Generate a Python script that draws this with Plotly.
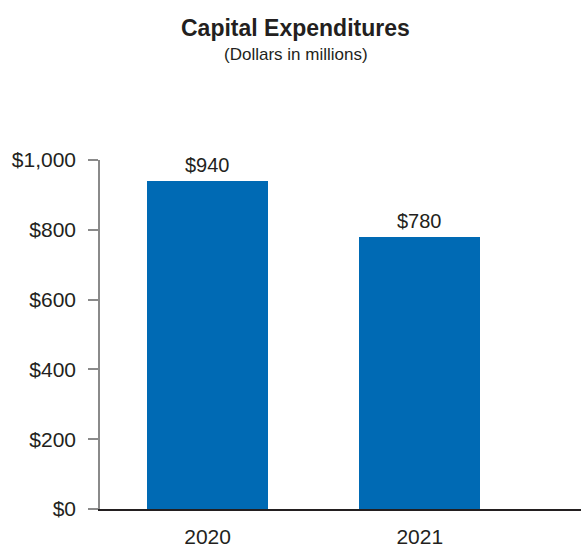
import plotly.graph_objects as go

years = ["2020", "2021"]
capex = [940, 780]
value_labels = ["$940", "$780"]
y_ticks = [0, 200, 400, 600, 800, 1000]
y_tick_labels = ["$0", "$200", "$400", "$600", "$800", "$1,000"]

FONT = "Arial, Liberation Sans, sans-serif"
TXT = "#231f20"
BAR = "#006ab4"

W, H = 581, 548
ml, mr, mt, mb = 100, 0, 160, 39
ph = H - mt - mb

fig = go.Figure()
fig.add_trace(go.Bar(x=years, y=capex, marker_color=BAR, marker_line_width=0,
                     width=0.57, hoverinfo="skip"))

for i, (v, lab) in enumerate(zip(capex, value_labels)):
    fig.add_annotation(x=i, y=v, text=lab, showarrow=False, yanchor="bottom",
                       yshift=3, font=dict(family=FONT, size=20, color=TXT))

def py(px):
    return (H - mb - px) / ph

fig.add_annotation(xref="paper", yref="paper", x=(295 - ml) / (W - ml), y=py(28),
                   text="<b>Capital Expenditures</b>", showarrow=False,
                   xanchor="center", yanchor="middle",
                   font=dict(family=FONT, size=23, color=TXT))
fig.add_annotation(xref="paper", yref="paper", x=(296 - ml) / (W - ml), y=py(55),
                   text="(Dollars in millions)", showarrow=False,
                   xanchor="center", yanchor="middle",
                   font=dict(family=FONT, size=17, color=TXT))

fig.update_layout(
    width=W, height=H,
    margin=dict(l=ml, r=mr, t=mt, b=mb, pad=0),
    plot_bgcolor="white", paper_bgcolor="white",
    showlegend=False,
    bargap=0,
    xaxis=dict(
        type="category", range=[-0.507, 1.76],
        showline=True, linecolor="#231f20", linewidth=2,
        ticks="", showgrid=False, zeroline=False,
        tickfont=dict(family=FONT, size=21, color=TXT),
        ticklabelstandoff=8,
    ),
    yaxis=dict(
        range=[0, 1000], tickvals=y_ticks, ticktext=y_tick_labels,
        showline=True, linecolor="#8a8a8a", linewidth=1.5,
        ticks="outside", ticklen=10, tickcolor="#8a8a8a", tickwidth=1.5,
        showgrid=False, zeroline=False,
        tickfont=dict(family=FONT, size=21, color=TXT),
        ticklabelstandoff=8,
    ),
)

fig.write_html("out.html", config={"displayModeBar": False},
               post_script="document.body.style.margin='0';document.body.style.overflow='hidden';")
